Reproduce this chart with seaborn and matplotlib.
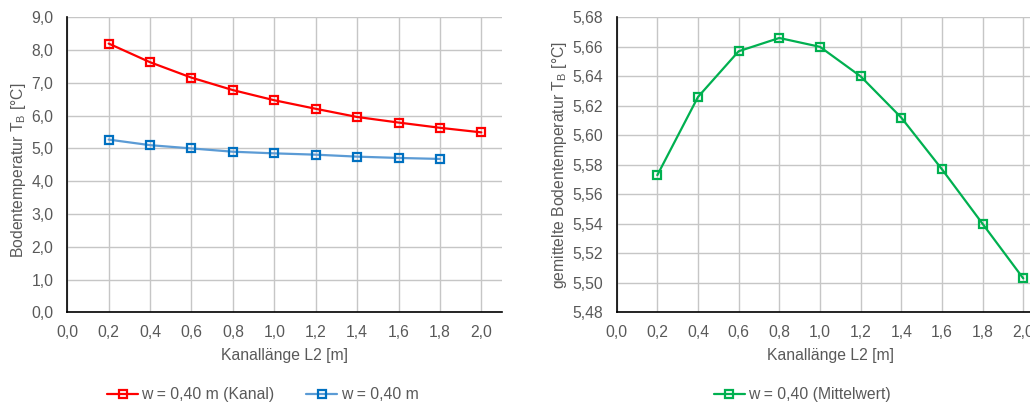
import numpy as np
import pandas as pd
import matplotlib
matplotlib.use("Agg")
import matplotlib.pyplot as plt
from matplotlib.ticker import FuncFormatter, MultipleLocator
from matplotlib.lines import Line2D
import seaborn as sns

# ---- data ----
L2_left = [0.2, 0.4, 0.6, 0.8, 1.0, 1.2, 1.4, 1.6, 1.8, 2.0]
T_kanal = [8.20, 7.63, 7.16, 6.78, 6.47, 6.21, 5.96, 5.79, 5.63, 5.49]
L2_blue = [0.2, 0.4, 0.6, 0.8, 1.0, 1.2, 1.4, 1.6, 1.8]
T_w040 = [5.27, 5.10, 5.00, 4.90, 4.85, 4.81, 4.75, 4.71, 4.68]
L2_right = [0.2, 0.4, 0.6, 0.8, 1.0, 1.2, 1.4, 1.6, 1.8, 2.0]
T_mittel = [5.573, 5.626, 5.657, 5.666, 5.660, 5.640, 5.612, 5.577, 5.540, 5.503]

label_red = "w = 0,40 m (Kanal)"
label_blue = "w = 0,40 m"
label_green = "w = 0,40 (Mittelwert)"
xlabel = "Kanallänge L2 [m]"
ylabel_left = r"Bodentemperatur T$_\mathregular{B}$ [°C]"
ylabel_right = r"gemittelte Bodentemperatur T$_\mathregular{B}$ [°C]"

sns.set_theme(style="white")
plt.rcParams['font.family'] = ['Liberation Sans', 'DejaVu Sans']
plt.rcParams['mathtext.fontset'] = 'custom'
plt.rcParams['mathtext.rm'] = 'Liberation Sans'

TXT = "#595959"
GRID = "#C6C6C6"
FS = 11.3

fig = plt.figure(figsize=(10.30, 4.03), dpi=100)
axL = fig.add_axes([0.0653, 0.225, 0.4221, 0.732])
axR = fig.add_axes([0.5987, 0.225, 0.4145, 0.732])

def comma(fmt):
    return FuncFormatter(lambda v, p: (fmt % v).replace(".", ","))

df_red = pd.DataFrame({"x": L2_left, "y": T_kanal})
df_blue = pd.DataFrame({"x": L2_blue, "y": T_w040})
df_green = pd.DataFrame({"x": L2_right, "y": T_mittel})

MS = 5.5
MEW = 1.6
sns.lineplot(data=df_red, x="x", y="y", ax=axL, color="#FF0000", lw=1.6,
             marker="s", markersize=MS, markerfacecolor="none",
             markeredgecolor="#FF0000", markeredgewidth=MEW, zorder=4)
sns.lineplot(data=df_blue, x="x", y="y", ax=axL, color="#5B9BD5", lw=1.6,
             marker="s", markersize=MS, markerfacecolor="none",
             markeredgecolor="#0070C0", markeredgewidth=MEW, zorder=3)
sns.lineplot(data=df_green, x="x", y="y", ax=axR, color="#00B050", lw=1.6,
             marker="s", markersize=MS, markerfacecolor="none",
             markeredgecolor="#00B050", markeredgewidth=MEW, zorder=4)

axL.set_xlim(0, 2.1)
axL.set_ylim(0, 9)
axL.yaxis.set_major_locator(MultipleLocator(1.0))
axL.yaxis.set_major_formatter(comma("%.1f"))
axR.set_xlim(0, 2.1)
axR.set_ylim(5.48, 5.68)
axR.set_yticks(np.arange(5.48, 5.6801, 0.02))
axR.yaxis.set_major_formatter(comma("%.2f"))

for ax in (axL, axR):
    ax.set_xticks(np.arange(0, 2.01, 0.2))
    ax.xaxis.set_major_formatter(comma("%.1f"))
    ax.grid(True, color=GRID, lw=1.0)
    ax.set_axisbelow(True)
    for s in ("top", "right"):
        ax.spines[s].set_visible(False)
    for s in ("left", "bottom"):
        ax.spines[s].set_color("black")
        ax.spines[s].set_linewidth(1.2)
    ax.tick_params(axis="both", length=0, labelsize=FS, colors=TXT)
    ax.tick_params(axis="y", pad=10)
    ax.tick_params(axis="x", pad=9)
    ax.set_xlabel(xlabel, fontsize=FS, color=TXT, va="center")
    ax.xaxis.set_label_coords(0.5, -0.145)

axL.set_ylabel(ylabel_left, fontsize=FS, color=TXT, va="center")
axL.yaxis.set_label_coords(-0.112, 0.48)
axR.set_ylabel(ylabel_right, fontsize=FS, color=TXT, va="center")
axR.yaxis.set_label_coords(-0.133, 0.5)

def handle(lc, mc):
    return Line2D([0], [0], color=lc, lw=1.6, marker="s", markersize=MS,
                  markerfacecolor="none", markeredgecolor=mc, markeredgewidth=MEW)

fig.legend([handle("#FF0000", "#FF0000"), handle("#5B9BD5", "#0070C0")],
           [label_red, label_blue], loc="center", bbox_to_anchor=(0.255, 0.02),
           ncol=2, frameon=False, fontsize=FS, labelcolor=TXT,
           handlelength=2.0, handletextpad=0.2, columnspacing=2.0)
fig.legend([handle("#00B050", "#00B050")], [label_green], loc="center",
           bbox_to_anchor=(0.779, 0.02), frameon=False, fontsize=FS,
           labelcolor=TXT, handlelength=2.0, handletextpad=0.2)

fig.savefig("out.png", dpi=100)
